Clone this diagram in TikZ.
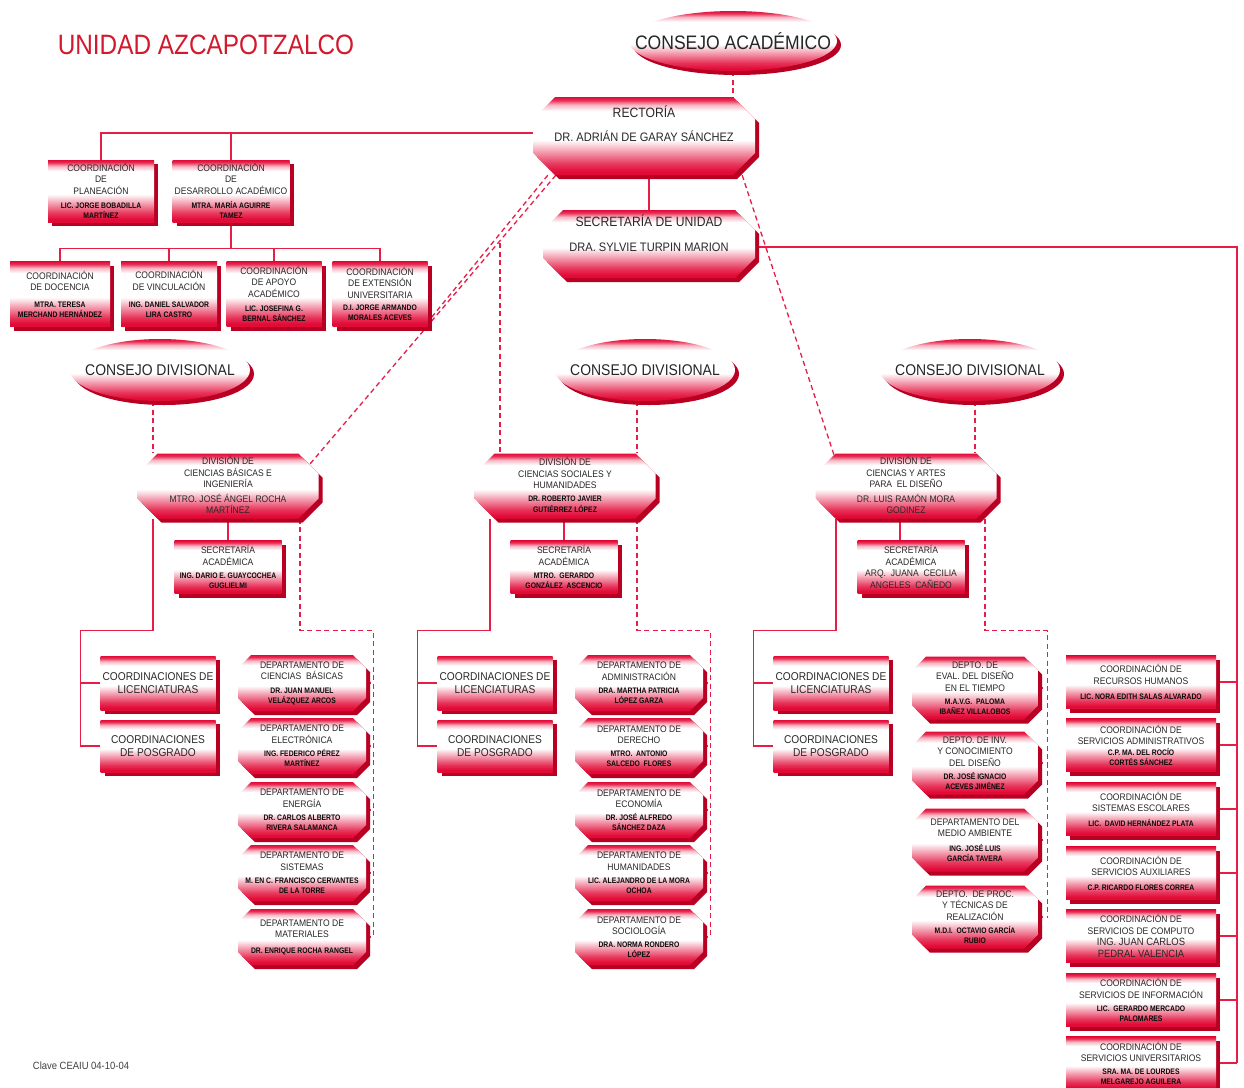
\documentclass[tikz,border=0pt]{standalone}
\usepackage{fontspec}
\setmainfont{Liberation Sans}
\newfontfamily\bxf[FakeStretch=0.9]{Liberation Sans}
\newfontfamily\nmf[FakeStretch=0.85]{Liberation Sans}
\newfontfamily\ttlf[FakeStretch=0.87]{Liberation Sans}
\usetikzlibrary{shapes.geometric,shadows,calc}
\definecolor{gradred}{RGB}{226,10,55}
\definecolor{shadowred}{RGB}{185,0,35}
\definecolor{linered}{RGB}{230,30,70}
\definecolor{titlered}{RGB}{210,25,45}
\definecolor{txtgray}{RGB}{40,40,40}
\definecolor{nmcol}{RGB}{10,10,10}
\pgfdeclareverticalshading{boxshade}{100bp}{color(0bp)=(gradred); color(27bp)=(gradred); color(32bp)=(gradred!82!white); color(40bp)=(gradred!40!white); color(47.5bp)=(white); color(66bp)=(white); color(70bp)=(gradred!30!white); color(73bp)=(gradred!85!white); color(75bp)=(gradred); color(100bp)=(gradred)}
\pgfdeclarelayer{bg}
\pgfsetlayers{bg,main}
\newcommand\bx{\bxf\fontsize{9.5}{11.5}\selectfont}
\newcommand\nm[1]{{\nmf\bfseries\fontsize{8}{9}\selectfont\color{nmcol}#1}}
\newcommand\octpath[3]{({-#1/2+#3},{-#2/2}) -- ({#1/2-#3},{-#2/2}) -- ({#1/2},{-#2/2+#3}) -- ({#1/2},{#2/2-#3}) -- ({#1/2-#3},{#2/2}) -- ({-#1/2+#3},{#2/2}) -- ({-#1/2},{#2/2-#3}) -- ({-#1/2},{-#2/2+#3}) -- cycle}
\newcommand\octo[7]{%
  \fill[shadowred,shift={#2},xshift=4pt,yshift=-4pt] \octpath{#3}{#4}{#5};
  \shade[shading=boxshade,shift={#2}] \octpath{#3}{#4}{#5};
  \node[minimum width=#3pt,minimum height=#4pt,inner sep=0pt] (#1) at #2 {};
  \node[btext,#6] (#1-t) at #2 {#7};}
\begin{document}
\begin{tikzpicture}[x=1pt,y=-1pt,
  sl/.style={draw=linered,line width=1.5pt},
  dl/.style={draw=linered,line width=1.3pt,dash pattern=on 5pt off 3.5pt},
  shd/.style={drop shadow={shadow xshift=4pt,shadow yshift=-4pt,fill=shadowred,opacity=1}},
  rbox/.style n args={2}{rectangle,shade,shading=boxshade,shd,minimum width=#1pt,minimum height=#2pt,inner sep=0pt,align=center,font=\bx,text=txtgray},
  ell/.style n args={2}{ellipse,shade,shading=boxshade,shd,minimum width=#1pt,minimum height=#2pt,inner sep=0pt,text=black!85},
  btext/.style={align=center,font=\bx,text=txtgray,inner sep=0pt}]
\useasboundingbox (0,0) rectangle (1244,1087);
\begin{pgfonlayer}{bg}
\fill[white] (0,0) rectangle (1244,1087);
\end{pgfonlayer}

\node[font=\ttlf\fontsize{28}{30}\selectfont,text=titlered] (title) at (206,45) {UNIDAD AZCAPOTZALCO};

\node[ell={208}{60},font=\bxf\fontsize{19.5}{21}\selectfont] (cacad) at (733,41) {\makebox[0pt]{CONSEJO ACADÉMICO}};

\octo{rect}{(644,136)}{222}{78}{22}{yshift=12pt,font=\bxf\fontsize{13.5}{15}\selectfont}{RECTORÍA\\[9pt]{\fontsize{12.3}{14}\selectfont DR. ADRIÁN DE GARAY SÁNCHEZ}}
\octo{secu}{(649,244)}{212}{68}{20}{yshift=11pt,font=\bxf\fontsize{13.5}{15}\selectfont}{SECRETARÍA DE UNIDAD\\[10pt]{\fontsize{12.3}{14}\selectfont DRA. SYLVIE TURPIN MARION}}

\node[rbox={106}{62}] (plan) at (101,191) {COORDINACIÓN\\DE\\PLANEACIÓN\\[3pt]\nm{LIC. JORGE BOBADILLA}\\[-1.5pt]\nm{MARTÍNEZ}};
\node[rbox={117}{62}] (desa) at (231,191) {COORDINACIÓN\\DE\\DESARROLLO ACADÉMICO\\[3pt]\nm{MTRA. MARÍA AGUIRRE}\\[-1.5pt]\nm{TAMEZ}};

\node[rbox={100}{65}] (doc) at (60,294) {COORDINACIÓN\\DE DOCENCIA\\[5pt]\nm{MTRA. TERESA}\\[-1.5pt]\nm{MERCHAND HERNÁNDEZ}};
\node[rbox={96}{65}] (vin) at (169,294) {COORDINACIÓN\\DE VINCULACIÓN\\[6pt]\nm{ING. DANIEL SALVADOR}\\[-1.5pt]\nm{LIRA CASTRO}};
\node[rbox={95}{65}] (apo) at (274,294) {COORDINACIÓN\\DE APOYO\\ACADÉMICO\\[3pt]\nm{LIC. JOSEFINA G.}\\[-1.5pt]\nm{BERNAL SÁNCHEZ}};
\node[rbox={95}{65}] (ext) at (380,294) {COORDINACIÓN\\DE EXTENSIÓN\\UNIVERSITARIA\\[1pt]\nm{D.I. JORGE ARMANDO}\\[-1.5pt]\nm{MORALES ACEVES}};

\node[ell={180}{62},font=\bxf\fontsize{15.5}{17}\selectfont] (cdA) at (160,370) {\makebox[0pt]{CONSEJO DIVISIONAL}};
\node[ell={180}{62},font=\bxf\fontsize{15.5}{17}\selectfont] (cdB) at (645,370) {\makebox[0pt]{CONSEJO DIVISIONAL}};
\node[ell={180}{62},font=\bxf\fontsize{15.5}{17}\selectfont] (cdC) at (970,370) {\makebox[0pt]{CONSEJO DIVISIONAL}};

\octo{cbi}{(228,486)}{181}{65}{20}{yshift=1pt}{DIVISIÓN DE\\CIENCIAS BÁSICAS E\\INGENIERÍA\\[3pt]MTRO. JOSÉ ÁNGEL ROCHA\\MARTÍNEZ}
\octo{csh}{(565,486)}{181}{65}{20}{yshift=1pt}{DIVISIÓN DE\\CIENCIAS SOCIALES Y\\HUMANIDADES\\[1pt]\nm{DR. ROBERTO JAVIER}\\\nm{GUTIÉRREZ LÓPEZ}}
\octo{cyad}{(906,486)}{181}{65}{20}{yshift=1pt}{DIVISIÓN DE\\CIENCIAS Y ARTES\\PARA \ EL DISEÑO\\[3pt]DR. LUIS RAMÓN MORA\\GODINEZ}

\node[rbox={107}{53}] (saA) at (228,567) {SECRETARÍA\\ACADÉMICA\\[2pt]\nm{ING. DARIO E. GUAYCOCHEA}\\[-1.5pt]\nm{GUGLIELMI}};
\node[rbox={107}{53}] (saB) at (564,567) {SECRETARÍA\\ACADÉMICA\\[2pt]\nm{MTRO. \ GERARDO}\\[-1.5pt]\nm{GONZÁLEZ \ ASCENCIO}};
\node[rbox={107}{53}] (saC) at (911,567) {SECRETARÍA\\ACADÉMICA\\ARQ. \ JUANA \ CECILIA\\ANGELES \ CAÑEDO};

\node[rbox={115}{54},font=\bxf\fontsize{11.3}{13.5}\selectfont] (licA) at (158,683) {COORDINACIONES DE\\LICENCIATURAS};
\node[rbox={115}{52},font=\bxf\fontsize{11.3}{13.5}\selectfont] (posA) at (158,746) {COORDINACIONES\\DE POSGRADO};
\node[rbox={115}{54},font=\bxf\fontsize{11.3}{13.5}\selectfont] (licB) at (495,683) {COORDINACIONES DE\\LICENCIATURAS};
\node[rbox={115}{52},font=\bxf\fontsize{11.3}{13.5}\selectfont] (posB) at (495,746) {COORDINACIONES\\DE POSGRADO};
\node[rbox={115}{54},font=\bxf\fontsize{11.3}{13.5}\selectfont] (licC) at (831,683) {COORDINACIONES DE\\LICENCIATURAS};
\node[rbox={115}{52},font=\bxf\fontsize{11.3}{13.5}\selectfont] (posC) at (831,746) {COORDINACIONES\\DE POSGRADO};

\octo{dA1}{(302,683)}{128}{56}{13}{}{DEPARTAMENTO DE\\CIENCIAS \ BÁSICAS\\[2pt]\nm{DR. JUAN MANUEL}\\[-1.5pt]\nm{VELÁZQUEZ ARCOS}}
\octo{dA2}{(302,746)}{128}{56}{13}{}{DEPARTAMENTO DE\\ELECTRÓNICA\\[2pt]\nm{ING. FEDERICO PÉREZ}\\[-1.5pt]\nm{MARTÍNEZ}}
\octo{dA3}{(302,810)}{128}{56}{13}{}{DEPARTAMENTO DE\\ENERGÍA\\[2pt]\nm{DR. CARLOS ALBERTO}\\[-1.5pt]\nm{RIVERA SALAMANCA}}
\octo{dA4}{(302,873)}{128}{56}{13}{}{DEPARTAMENTO DE\\SISTEMAS\\[2pt]\nm{M. EN C. FRANCISCO CERVANTES}\\[-1.5pt]\nm{DE LA TORRE}}
\octo{dA5}{(302,937)}{128}{56}{13}{}{DEPARTAMENTO DE\\MATERIALES\\[4pt]\nm{DR. ENRIQUE ROCHA RANGEL}}

\octo{dB1}{(639,683)}{128}{56}{13}{}{DEPARTAMENTO DE\\ADMINISTRACIÓN\\[2pt]\nm{DRA. MARTHA PATRICIA}\\[-1.5pt]\nm{LÓPEZ GARZA}}
\octo{dB2}{(639,746)}{128}{56}{13}{}{DEPARTAMENTO DE\\DERECHO\\[1pt]\nm{MTRO. \ ANTONIO}\\[-1.5pt]\nm{SALCEDO \ FLORES}}
\octo{dB3}{(639,810)}{128}{56}{13}{}{DEPARTAMENTO DE\\ECONOMÍA\\[1pt]\nm{DR. JOSÉ ALFREDO}\\[-1.5pt]\nm{SÁNCHEZ DAZA}}
\octo{dB4}{(639,873)}{128}{56}{13}{}{DEPARTAMENTO DE\\HUMANIDADES\\[2pt]\nm{LIC. ALEJANDRO DE LA MORA}\\[-1.5pt]\nm{OCHOA}}
\octo{dB5}{(639,937)}{128}{56}{13}{}{DEPARTAMENTO DE\\SOCIOLOGÍA\\[1pt]\nm{DRA. NORMA RONDERO}\\[-1.5pt]\nm{LÓPEZ}}

\octo{dC1}{(975,688)}{126}{63}{14}{}{DEPTO. DE\\EVAL. DEL DISEÑO\\EN EL TIEMPO\\[2pt]\nm{M.A.V.G. \ PALOMA}\\[-1.5pt]\nm{IBAÑEZ VILLALOBOS}}
\octo{dC2}{(975,763)}{126}{63}{14}{}{DEPTO. DE INV.\\Y CONOCIMIENTO\\DEL DISEÑO\\[2pt]\nm{DR. JOSÉ IGNACIO}\\[-1.5pt]\nm{ACEVES JIMÉNEZ}}
\octo{dC3}{(975,840)}{126}{63}{14}{}{DEPARTAMENTO DEL\\MEDIO AMBIENTE\\[3pt]\nm{ING. JOSÉ LUIS}\\[-1.5pt]\nm{GARCÍA TAVERA}}
\octo{dC4}{(975,917)}{126}{63}{14}{}{DEPTO. \ DE PROC.\\Y TÉCNICAS DE\\REALIZACIÓN\\[2pt]\nm{M.D.I. \ OCTAVIO GARCÍA}\\[-1.5pt]\nm{RUBIO}}

\node[rbox={150}{53}] (rc1) at (1141,682) {COORDINACIÓN DE\\RECURSOS HUMANOS\\[4pt]\nm{LIC. NORA EDITH SALAS ALVARADO}};
\node[rbox={150}{53}] (rc2) at (1141,745) {COORDINACIÓN DE\\SERVICIOS ADMINISTRATIVOS\\[-1pt]\nm{C.P. MA. DEL ROCÍO}\\[-1.5pt]\nm{CORTÉS SÁNCHEZ}};
\node[rbox={150}{53}] (rc3) at (1141,809) {COORDINACIÓN DE\\SISTEMAS ESCOLARES\\[3pt]\nm{LIC. \ DAVID HERNÁNDEZ PLATA}};
\node[rbox={150}{53}] (rc4) at (1141,873) {COORDINACIÓN DE\\SERVICIOS AUXILIARES\\[3pt]\nm{C.P. RICARDO FLORES CORREA}};
\node[rbox={150}{53}] (rc5) at (1141,936) {COORDINACIÓN DE\\SERVICIOS DE COMPUTO\\{\fontsize{10.5}{12}\selectfont ING. JUAN CARLOS}\\{\fontsize{10.5}{12}\selectfont PEDRAL VALENCIA}};
\node[rbox={150}{53}] (rc6) at (1141,1000) {COORDINACIÓN DE\\SERVICIOS DE INFORMACIÓN\\[2pt]\nm{LIC. \ GERARDO MERCADO}\\[-1.5pt]\nm{PALOMARES}};
\node[rbox={150}{53}] (rc7) at (1141,1063) {COORDINACIÓN DE\\SERVICIOS UNIVERSITARIOS\\[1pt]\nm{SRA. MA. DE LOURDES}\\[-1.5pt]\nm{MELGAREJO AGUILERA}};

\node[font=\bxf\fontsize{10.5}{12}\selectfont,text=black!75] (clave) at (81,1066) {Clave CEAIU 04-10-04};

\begin{pgfonlayer}{bg}
\draw[dl] (cacad.south) -- (cacad.south |- rect.north);
\coordinate (rw) at ([yshift=3pt]rect.west);
\draw[sl] (rw) -| (plan.north);
\draw[sl] (desa.north) -- (desa.north |- rw);
\draw[sl] (desa.south) -- ++(0,27);
\draw[sl] (doc.north) -- ++(0,-13) -| (ext.north);
\draw[sl] (vin.north) -- ++(0,-13);
\draw[sl] (apo.north) -- ++(0,-13);
\draw[sl] (secu.north) -- (secu.north |- rect.south);
\coordinate (rbot) at (1237,1063);
\draw[sl] ([yshift=-3pt]secu.east) -| (rbot);
\foreach \nn in {rc1,rc2,rc3,rc4,rc5,rc6,rc7}{\draw[sl] (\nn.east) -- (\nn.east -| rbot);}
\coordinate (extd) at (431,318);
\draw[dl] ([xshift=15pt]rect.south west) -- (extd);
\coordinate (cbid) at (310,464);
\draw[dl] ([xshift=23pt]rect.south west) -- (cbid);
\coordinate (vd) at (500,243);
\draw[dl] (vd) -- (vd |- csh.north);
\coordinate (cyd) at (834,455);
\draw[dl] ([xshift=-13pt]rect.south east) -- (cyd);
\draw[dl] ([xshift=-7pt]cdA.south) -- ([xshift=-75pt]cbi.north);
\draw[dl] ([xshift=-8pt]cdB.south) -- ([xshift=72pt]csh.north);
\draw[dl] ([xshift=5pt]cdC.south) -- ([xshift=69pt]cyad.north);
\draw[sl] (saA.north |- cbi.south) -- (saA.north);
\draw[sl] (saB.north |- csh.south) -- (saB.north);
\draw[sl] ([xshift=-6pt]cyad.south) -- ([xshift=-6pt]cyad.south |- saC.north);
\draw[sl] ([xshift=-75pt]cbi.south) -- ++(0,112) -| ([xshift=-20pt]posA.west) -- (posA.west);
\draw[sl] (licA.west) -- ++(-20,0);
\draw[sl] ([xshift=-75pt]csh.south) -- ++(0,112) -| ([xshift=-20pt]posB.west) -- (posB.west);
\draw[sl] (licB.west) -- ++(-20,0);
\draw[sl] ([xshift=-70pt]cyad.south) -- ++(0,112) -| ([xshift=-20pt]posC.west) -- (posC.west);
\draw[sl] (licC.west) -- ++(-20,0);
\draw[dl] ([xshift=72pt]cbi.south) -- ++(0,112) -| ([xshift=7pt]dA5.east);
\foreach \nn in {dA1,dA2,dA3,dA4,dA5}{\draw[dl] (\nn.east) -- ++(7,0);}
\draw[dl] ([xshift=72pt]csh.south) -- ++(0,112) -| ([xshift=7pt]dB5.east);
\foreach \nn in {dB1,dB2,dB3,dB4,dB5}{\draw[dl] (\nn.east) -- ++(7,0);}
\draw[dl] ([xshift=79pt]cyad.south) -- ++(0,112) -| ([xshift=9pt]dC4.east);
\foreach \nn in {dC1,dC2,dC3,dC4}{\draw[dl] (\nn.east) -- ++(9,0);}
\end{pgfonlayer}
\end{tikzpicture}
\end{document}
